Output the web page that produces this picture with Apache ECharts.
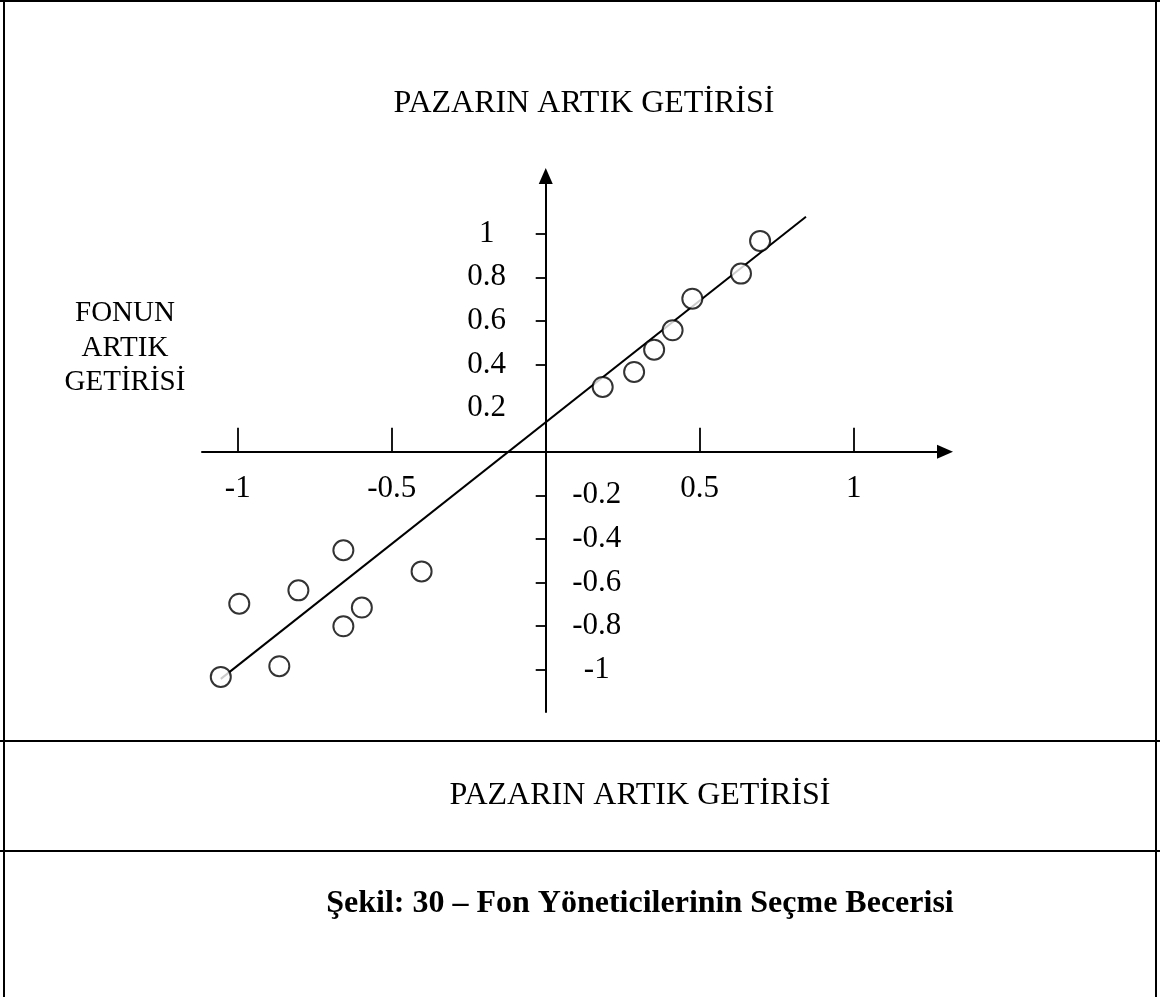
<!DOCTYPE html>
<html>
<head>
<meta charset="utf-8">
<script src="https://cdn.jsdelivr.net/npm/echarts@6/dist/echarts.min.js"></script>
<style>
  html, body { margin: 0; padding: 0; background: #fff; }
  #chart { width: 1160px; height: 997px; }
</style>
</head>
<body>
<div id="chart"></div>
<script>
// Market excess return (x) and fund excess return (y) for each observation
const marketExcess = [0.185, 0.287, 0.352, 0.412, 0.476, 0.634, 0.696,
                      -1.055, -0.995, -0.865, -0.803, -0.657, -0.657, -0.597, -0.403];
const fundExcess   = [0.297, 0.366, 0.468, 0.557, 0.702, 0.817, 0.967,
                      -1.033, -0.697, -0.984, -0.636, -0.452, -0.801, -0.715, -0.549];

// End points of the fitted characteristic line
const fitX = [-1.055, 0.845];
const fitY = [-1.042, 1.078];

// Tick marks and tick labels
const xTicks = [-1, -0.5, 0.5, 1];
const yTicks = [1, 0.8, 0.6, 0.4, -0.2, -0.4, -0.6, -0.8, -1];
const yLabelsUpper = [1, 0.8, 0.6, 0.4, 0.2];
const yLabelsLower = [-0.2, -0.4, -0.6, -0.8, -1];

// Texts
const marketTitle = 'PAZARIN ARTIK GETİRİSİ';
const fundTitle = 'FONUN\nARTIK\nGETİRİSİ';
const caption = 'Şekil: 30 – Fon Yöneticilerinin Seçme Becerisi';

const SERIF = "'Liberation Serif', 'Times New Roman', serif";
const INK = '#000';

// Plot area and axis ranges; the two axes cross at (0, 0)
const GRID = { left: 202, right: 215, top: 176, bottom: 285 };
const W = 1160, H = 997;
const X_RANGE = [-1.116, 1.2964];
const Y_RANGE = [-1.194, 1.2647];
const gridW = W - GRID.left - GRID.right;
const gridH = H - GRID.top - GRID.bottom;
// shift each axis from the grid edge onto the other axis' zero
const yAxisShift = -(0 - X_RANGE[0]) / (X_RANGE[1] - X_RANGE[0]) * gridW;
const xAxisShift = -(0 - Y_RANGE[0]) / (Y_RANGE[1] - Y_RANGE[0]) * gridH;

const chart = echarts.init(document.getElementById('chart'), null, { renderer: 'canvas' });

const labelStyle = { color: INK, fontFamily: SERIF, fontSize: 31 };

function rule(x1, y1, x2, y2) {
  return { type: 'line', silent: true, shape: { x1, y1, x2, y2 }, style: { stroke: INK, lineWidth: 2 } };
}
function text(x, y, str, size, weight, lineHeight) {
  return {
    type: 'text', silent: true, x, y,
    style: {
      text: str, fill: INK, fontFamily: SERIF, fontSize: size, fontWeight: weight || 'normal',
      lineHeight: lineHeight || size, align: 'center', verticalAlign: 'middle'
    }
  };
}

chart.setOption({
  backgroundColor: '#fff',
  animation: false,
  grid: Object.assign({ containLabel: false }, GRID),
  xAxis: {
    type: 'value',
    min: X_RANGE[0], max: X_RANGE[1],
    position: 'bottom',
    offset: xAxisShift,
    splitLine: { show: false },
    axisLine: {
      onZero: false,
      symbol: ['none', 'triangle'],
      symbolSize: [14, 16],
      lineStyle: { color: INK, width: 2 }
    },
    axisTick: { customValues: xTicks, inside: true, length: 24, lineStyle: { color: INK, width: 1.8 } },
    axisLabel: Object.assign({ customValues: xTicks, margin: 22, formatter: v => String(v) }, labelStyle)
  },
  yAxis: [
    {
      type: 'value',
      min: Y_RANGE[0], max: Y_RANGE[1],
      position: 'left',
      offset: yAxisShift,
      splitLine: { show: false },
      axisLine: {
        onZero: false,
        symbol: ['none', 'triangle'],
        symbolSize: [14, 16],
        lineStyle: { color: INK, width: 2 }
      },
      axisTick: { customValues: yTicks, length: 10, lineStyle: { color: INK, width: 1.8 } },
      axisLabel: Object.assign({ customValues: yLabelsUpper, margin: 59, align: 'center', formatter: v => String(v) }, labelStyle)
    },
    {
      type: 'value',
      min: Y_RANGE[0], max: Y_RANGE[1],
      position: 'left',
      offset: yAxisShift,
      splitLine: { show: false },
      axisLine: { show: false, onZero: false },
      axisTick: { show: false },
      axisLabel: Object.assign({ customValues: yLabelsLower, inside: true, margin: 51, align: 'center', formatter: v => String(v) }, labelStyle)
    }
  ],
  series: [
    {
      type: 'line',
      data: fitX.map((x, i) => [x, fitY[i]]),
      symbol: 'none',
      lineStyle: { color: INK, width: 2 },
      z: 2
    },
    {
      type: 'scatter',
      data: marketExcess.map((x, i) => [x, fundExcess[i]]),
      symbol: 'circle',
      symbolSize: 20,
      itemStyle: { color: '#fff', borderColor: INK, borderWidth: 2 },
      z: 3
    }
  ],
  graphic: [
    // frame and separators
    rule(0, 1, 1160, 1),
    rule(4, 0, 4, 997),
    rule(1156, 0, 1156, 997),
    rule(0, 741, 1160, 741),
    rule(0, 851, 1160, 851),
    // texts
    text(584, 104, marketTitle, 32),
    text(125, 348, fundTitle, 29, 'normal', 34.5),
    text(640, 796, marketTitle, 32),
    text(640, 904, caption, 32, 'bold')
  ]
});
</script>
</body>
</html>
